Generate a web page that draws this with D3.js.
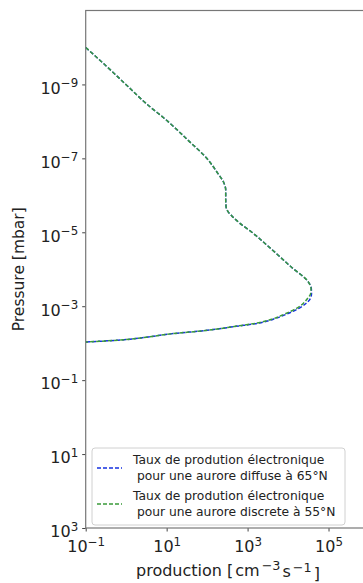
<!DOCTYPE html>
<html>
<head>
<meta charset="utf-8">
<script src="https://cdn.jsdelivr.net/npm/d3@7"></script>
<style>
  body { margin: 0; background: #fff; }
  text { font-family: "DejaVu Sans", sans-serif; }
</style>
</head>
<body>
<div id="chart"></div>
<script>
// pressure levels [mbar], top of atmosphere first
const pressure = [1e-10, 3.16e-10, 1e-9, 3.16e-9, 1e-8, 3.16e-8, 1e-7, 2.5e-7, 4.5e-7, 7.1e-7,
  1.26e-6, 2.1e-6, 2.8e-6, 3.5e-6, 5.6e-6, 9.3e-6, 2.8e-5, 8.7e-5, 2.2e-4, 3.3e-4,
  4.5e-4, 6.2e-4, 8.3e-4, 1.12e-3, 1.66e-3, 2.24e-3, 2.9e-3, 3.5e-3, 4.5e-3, 5.6e-3,
  6.9e-3, 8.3e-3, 9.3e-3];
// production [cm-3 s-1]
const prodDiffuse65 = [0.1, 0.32, 0.98, 3.0, 10.7, 33, 98, 182, 257, 288,
  288, 295, 331, 398, 631, 1175, 3800, 12000, 31600, 37500,
  38000, 35500, 28200, 19000, 8900, 4300, 1780, 520, 100, 12.6,
  3.2, 0.63, 0.1];
const prodDiscrete55 = [0.1, 0.32, 0.98, 3.0, 10.7, 33, 98, 182, 257, 288,
  288, 295, 331, 398, 631, 1175, 3800, 12000, 31600, 37000,
  36300, 30200, 24000, 16600, 7900, 4000, 1580, 500, 100, 12.6,
  3.2, 0.63, 0.1];
const seriesNames = [
  ["Taux de prodution électronique", " pour une aurore diffuse à 65°N"],
  ["Taux de prodution électronique", " pour une aurore discrete à 55°N"]
];
const xTicks = [1e-1, 1e1, 1e3, 1e5];
const yTicks = [1e-9, 1e-7, 1e-5, 1e-3, 1e-1, 1e1, 1e3];

const W = 363, H = 583;
const mLeft = 85.7, mRight = 369, mTop = 10.5, mBottom = 528;

const svg = d3.select("#chart").append("svg")
  .attr("width", W).attr("height", H);

const x = d3.scaleLog().domain([1e-1, 1e6]).range([mLeft, mRight]);
const y = d3.scaleLog().domain([1e-11, 1e3]).range([mTop, mBottom]);

svg.append("clipPath").attr("id", "plot")
  .append("rect").attr("x", mLeft).attr("y", mTop)
  .attr("width", mRight - mLeft).attr("height", mBottom - mTop);

function expLabel(sel) {
  sel.each(function(d) {
    const e = Math.round(Math.log10(d));
    const t = d3.select(this).text(null);
    t.append("tspan").text("10");
    t.append("tspan").attr("dy", "-0.55em").attr("font-size", "0.74em")
      .text(e < 0 ? "\u2212" + (-e) : String(e));
  });
}

// axes
const gx = svg.append("g").attr("transform", `translate(0,${mBottom})`)
  .call(d3.axisBottom(x).tickValues(xTicks).tickSize(3.5).tickPadding(4));
const gy = svg.append("g").attr("transform", `translate(${mLeft},0)`)
  .call(d3.axisLeft(y).tickValues(yTicks).tickSize(3.5).tickPadding(4));
[gx, gy].forEach(g => {
  g.select(".domain").remove();
  g.selectAll(".tick line").attr("stroke", "#444");
  g.selectAll(".tick text").attr("font-size", 16).attr("fill", "#222").call(expLabel);
});
gx.selectAll(".tick text").attr("dy", "1.05em");
gy.selectAll(".tick text").attr("dy", "0.55em");

// frame
svg.append("rect").attr("x", mLeft).attr("y", mTop)
  .attr("width", mRight - mLeft).attr("height", mBottom - mTop)
  .attr("fill", "none").attr("stroke", "#777").attr("stroke-width", 1.2);

// curves
const line = d3.line()
  .x(d => x(d[0])).y(d => y(d[1]))
  .curve(d3.curveMonotoneY);
const series = [
  { values: prodDiffuse65, color: "#1530e0" },
  { values: prodDiscrete55, color: "#3a9a3a" }
];
const plot = svg.append("g").attr("clip-path", "url(#plot)");
series.forEach(s => {
  plot.append("path")
    .datum(s.values.map((v, i) => [v, pressure[i]]))
    .attr("d", line)
    .attr("fill", "none").attr("stroke", s.color)
    .attr("stroke-width", 1.5).attr("stroke-dasharray", "4,2");
});

// axis titles
svg.append("text").attr("transform", `translate(24,${(mTop + mBottom) / 2}) rotate(-90)`)
  .attr("text-anchor", "middle").attr("font-size", 15.5).attr("fill", "#222")
  .text("Pressure [mbar]");
const xl = svg.append("text").attr("x", 228).attr("y", 576)
  .attr("text-anchor", "middle").attr("font-size", 16).attr("fill", "#222");
xl.append("tspan").text("production [");
xl.append("tspan").attr("dx", 2).text("cm");
xl.append("tspan").attr("dx", 2).attr("dy", "-0.45em").attr("font-size", "0.8em").text("\u22123");
xl.append("tspan").attr("dx", 2).attr("dy", "0.45em").text("s");
xl.append("tspan").attr("dx", 2).attr("dy", "-0.45em").attr("font-size", "0.8em").text("\u22121");
xl.append("tspan").attr("dx", 2).attr("dy", "0.45em").text("]");

// legend
const lg = svg.append("g");
lg.append("rect").attr("x", 92).attr("y", 448).attr("width", 253).attr("height", 77)
  .attr("rx", 3).attr("fill", "#fff").attr("fill-opacity", 0.8)
  .attr("stroke", "#d0d0d0");
series.forEach((s, i) => {
  const y0 = 468 + i * 36;
  lg.append("line").attr("x1", 97).attr("x2", 122).attr("y1", y0).attr("y2", y0)
    .attr("stroke", s.color).attr("stroke-width", 1.5).attr("stroke-dasharray", "4,2");
  seriesNames[i].forEach((txt, j) => {
    lg.append("text").attr("x", 133).attr("y", y0 - 4 + j * 16)
      .attr("font-size", 12.3).attr("fill", "#222")
      .style("white-space", "pre").text(txt);
  });
});
</script>
</body>
</html>
